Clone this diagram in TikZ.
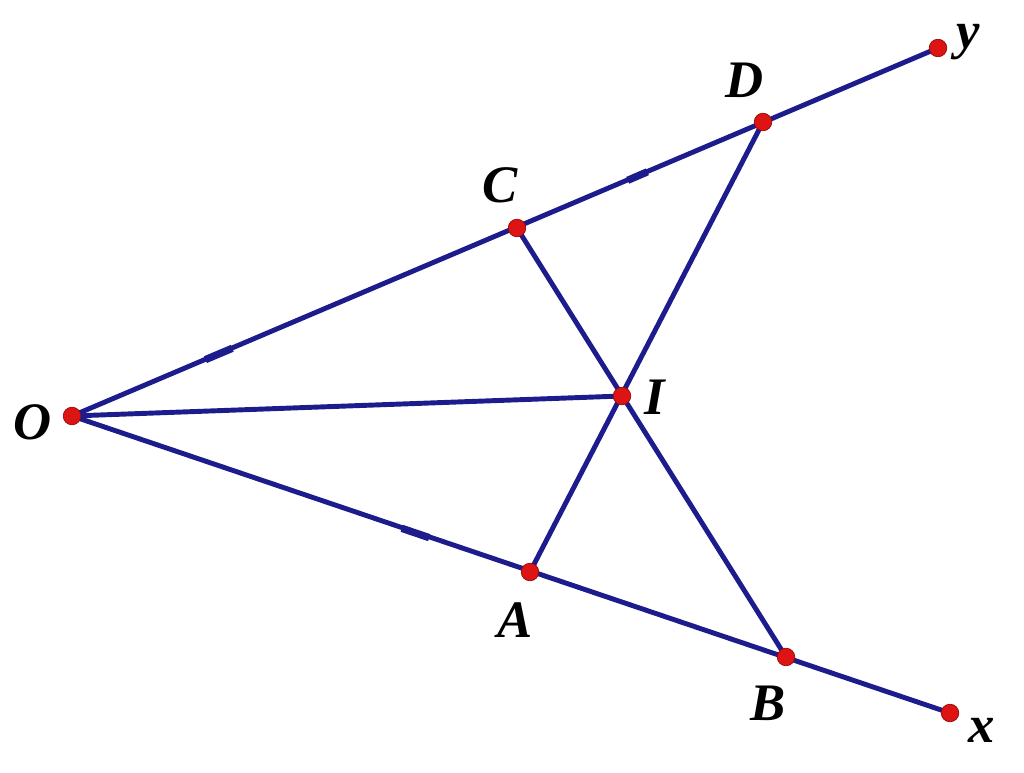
\documentclass[tikz,border=0pt]{standalone}
\usepackage{fontspec}
\setmainfont{Liberation Serif}
\usetikzlibrary{calc}
\begin{document}
\begin{tikzpicture}[x=0.02cm,y=-0.02cm,
  seg/.style={draw={rgb,255:red,28;green,28;blue,140},line width=2.8pt},
  bump/.style={draw={rgb,255:red,28;green,28;blue,140},line width=4.2pt},
  pt/.style={circle,fill={rgb,255:red,220;green,20;blue,20},draw={rgb,255:red,150;green,10;blue,10},line width=0.4pt,inner sep=0pt,minimum size=10pt},
  lab/.style={font=\fontsize{30}{32}\selectfont\bfseries\itshape}]
\useasboundingbox (0,0) rectangle (1024,773);
\coordinate (O) at (72,416);
\coordinate (C) at (517,228);
\coordinate (D) at (763,122);
\coordinate (Y) at (938,48);
\coordinate (A) at (530,572);
\coordinate (B) at (786,657);
\coordinate (X) at (950,713);
\coordinate (I) at (622,396);
\draw[seg] (O) -- (Y);
\draw[seg] (O) -- (X);
\draw[seg] (O) -- (I);
\draw[seg] (C) -- (B);
\draw[seg] (D) -- (A);
\draw[bump] ($(O)!0.30!(C)$) -- ($(O)!0.36!(C)$);
\draw[bump] ($(C)!0.45!(D)$) -- ($(C)!0.53!(D)$);
\draw[bump] ($(O)!0.72!(A)$) -- ($(O)!0.78!(A)$);
\node[pt] (nO) at (O) {};
\node[pt] (nC) at (C) {};
\node[pt] (nD) at (D) {};
\node[pt] (nY) at (Y) {};
\node[pt] (nA) at (A) {};
\node[pt] (nB) at (B) {};
\node[pt] (nX) at (X) {};
\node[pt] (nI) at (I) {};
\node[lab] (lO) at (33,422) {O};
\node[lab] (lC) at (500,185) {C};
\node[lab] (lD) at (745,80) {D};
\node[lab] (lY) at (968,42) {y};
\node[lab] (lI) at (655,397) {I};
\node[lab] (lA) at (515,620) {A};
\node[lab] (lB) at (768,703) {B};
\node[lab] (lX) at (982,730) {x};
\end{tikzpicture}
\end{document}
